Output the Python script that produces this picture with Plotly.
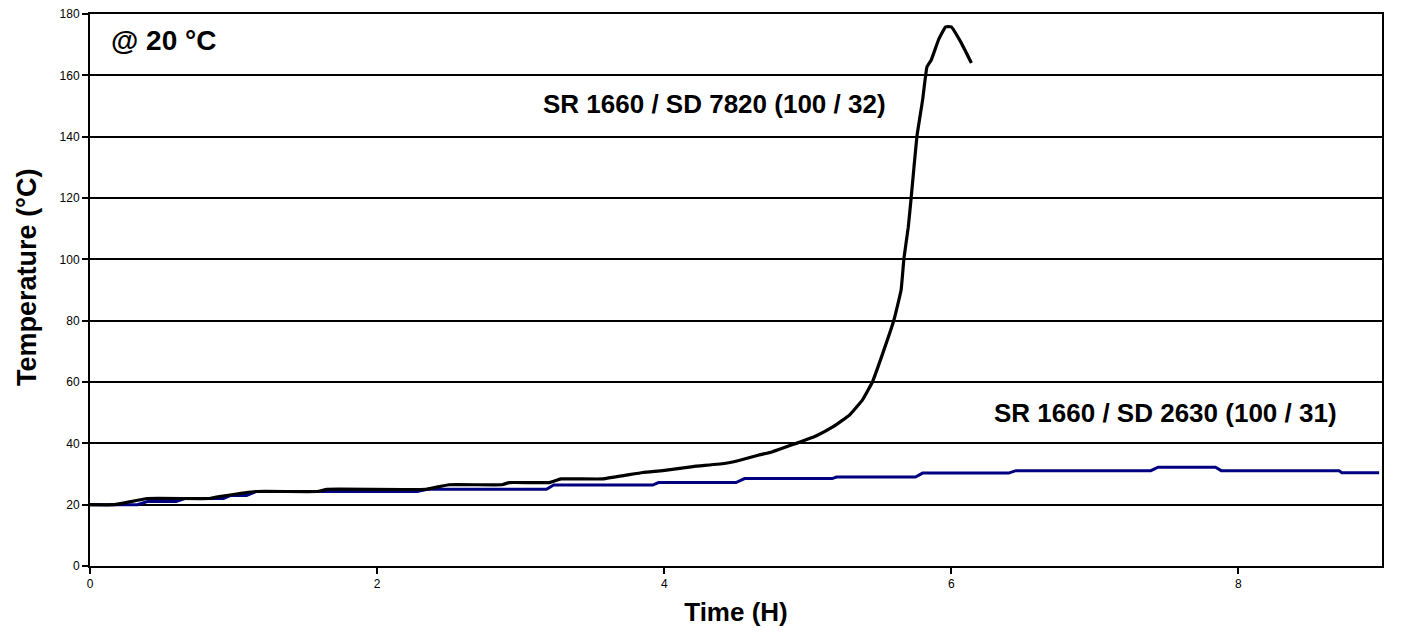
import plotly.graph_objects as go

# SR 1660 / SD 7820 (100 / 32) - black
t_black = [0, 0.17, 0.40, 0.83, 0.95, 1.16, 1.58, 1.65, 2.34, 2.50, 2.87, 2.92, 3.20, 3.28, 3.57,
           3.85, 3.99, 4.20, 4.43, 4.52, 4.66, 4.75, 4.89, 5.06, 5.18, 5.29, 5.38, 5.45,
           5.53, 5.60, 5.65, 5.67, 5.70, 5.72, 5.76, 5.80, 5.83, 5.86, 5.91, 5.96, 6.00, 6.07, 6.14]
T_black = [20, 20, 22, 22, 23, 24.3, 24.3, 25, 25, 26.5, 26.5, 27.2, 27.2, 28.4, 28.4,
           30.5, 31.1, 32.4, 33.5, 34.4, 36.2, 37.2, 39.5, 42.5, 45.5, 49.2, 54.1, 60,
           70.4, 80.2, 90, 100.4, 110.5, 120, 140, 152, 162.7, 165, 171.5, 175.8, 175.8, 170.5, 164]

# SR 1660 / SD 2630 (100 / 31) - blue
t_blue = [0, 0.33, 0.40, 0.60, 0.66, 0.93, 0.98, 1.09, 1.16, 2.28, 2.35, 3.18, 3.23, 3.92, 3.96,
          4.50, 4.56, 5.17, 5.20, 5.75, 5.80, 6.40, 6.45, 7.39, 7.44, 7.84, 7.88, 8.70, 8.72, 8.98]
T_blue = [20, 20, 21, 21, 22, 22, 23, 23, 24.3, 24.3, 25, 25, 26.4, 26.4, 27.2,
          27.2, 28.5, 28.5, 29, 29, 30.3, 30.3, 31.1, 31.1, 32.2, 32.2, 31.1, 31.1, 30.4, 30.4]

x_ticks = [0, 2, 4, 6, 8]
y_ticks = [0, 20, 40, 60, 80, 100, 120, 140, 160, 180]

fig = go.Figure()
fig.add_trace(go.Scatter(x=t_blue, y=T_blue, mode="lines",
                         line=dict(color="#000080", width=3), showlegend=False))
fig.add_trace(go.Scatter(x=t_black, y=T_black, mode="lines",
                         line=dict(color="#000000", width=3.2, shape="spline", smoothing=0.3),
                         showlegend=False))

font_main = "Liberation Sans, Arial, sans-serif"

fig.add_annotation(x=0.51, y=171.5, text="<b>@ 20 °C</b>", showarrow=False,
                   font=dict(size=28, color="black", family=font_main), xanchor="center", yanchor="middle")
fig.add_annotation(x=4.35, y=150.5, text="<b>SR 1660 / SD 7820 (100 / 32)</b>", showarrow=False,
                   font=dict(size=26, color="black", family=font_main), xanchor="center", yanchor="middle")
fig.add_annotation(x=7.49, y=50, text="<b>SR 1660 / SD 2630 (100 / 31)</b>", showarrow=False,
                   font=dict(size=26, color="black", family=font_main), xanchor="center", yanchor="middle")
# y-axis title (placed slightly above centre as in the reference)
fig.add_annotation(xref="paper", yref="paper", x=-0.0488, y=0.5236, textangle=-90,
                   text="<b>Temperature (°C)</b>", showarrow=False,
                   font=dict(size=27, color="black", family=font_main), xanchor="center", yanchor="middle")

# page body has an 8px margin, so the figure is sized to fit inside the 1402x635 window
fig.update_layout(
    width=1386, height=619,
    margin=dict(l=82, r=12, t=6, b=61),
    paper_bgcolor="white", plot_bgcolor="white",
    font=dict(family=font_main, color="black"),
)
fig.update_xaxes(range=[0, 9], tickvals=x_ticks, showgrid=False, zeroline=False, automargin=False,
                 showline=True, linecolor="black", linewidth=2, mirror=True,
                 ticks="outside", ticklen=6, tickwidth=2, tickcolor="black",
                 ticklabeloverflow="allow",
                 tickfont=dict(size=12, family=font_main),
                 title=dict(text="<b>Time (H)</b>", font=dict(size=26, family=font_main), standoff=12))
fig.update_yaxes(range=[0, 180], tickvals=y_ticks, showgrid=True, gridcolor="black", gridwidth=1.5,
                 zeroline=False, showline=True, linecolor="black", linewidth=2, mirror=True,
                 automargin=False, ticklabeloverflow="allow",
                 ticks="outside", ticklen=6, tickwidth=2, tickcolor="black",
                 tickfont=dict(size=12, family=font_main))

fig.write_html("out.html")
